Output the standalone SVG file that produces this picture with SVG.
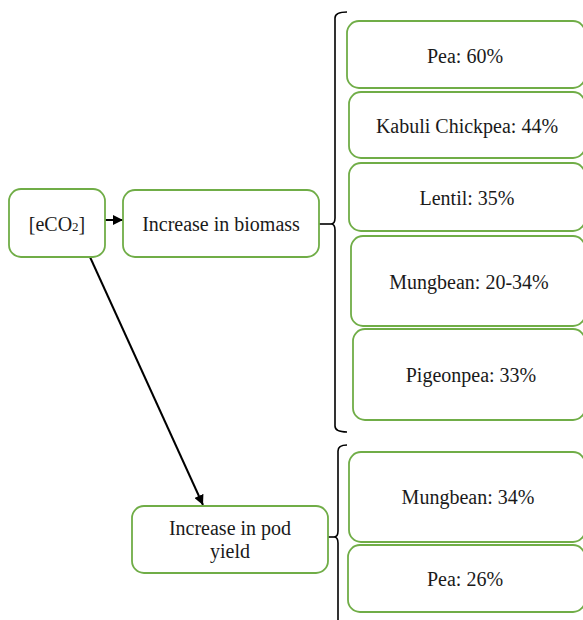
<svg xmlns="http://www.w3.org/2000/svg" width="583" height="620" viewBox="0 0 583 620">
  <style>
    .box { fill: #ffffff; stroke: #70AD47; stroke-width: 1.8; }
    .lbl { font-family: "Liberation Serif", "Times New Roman", serif; font-size: 20px; fill: #1a1a1a; text-anchor: middle; }
    .edge { fill: none; stroke: #000000; stroke-width: 2; }
    .brace { fill: none; stroke: #000000; stroke-width: 1.6; }
  </style>
  <defs>
    <marker id="arrow" viewBox="0 0 10 10" refX="10" refY="5" markerWidth="5" markerHeight="5" orient="auto" markerUnits="strokeWidth">
      <path d="M0,0 L10,5 L0,10 Z" fill="#000000"/>
    </marker>
  </defs>
  <rect width="583" height="620" fill="#ffffff"/>

  <!-- connectors and braces -->
  <g id="connectors">
    <line class="edge" x1="105" y1="220" x2="123" y2="220" marker-end="url(#arrow)"/>
    <line class="edge" x1="90" y1="257" x2="203" y2="505" marker-end="url(#arrow)"/>
    <line class="brace" x1="319" y1="224" x2="331" y2="224"/>
    <path class="brace" d="M347,12 Q335,12 335,18 L335,218 Q335,224 331,224 Q335,224 335,230 L335,426 Q335,432 347,432"/>
    <line class="brace" x1="328" y1="537" x2="334" y2="537"/>
    <path class="brace" d="M347,445 Q338,445 338,451 L338,531 Q338,537 334,537 Q338,537 338,543 L338,622"/>
  </g>

  <g id="eco2">
    <rect class="box" x="9" y="189" width="96" height="68" rx="12"/>
    <text class="lbl" x="57" y="231">[eCO<tspan font-size="13">2</tspan>]</text>
  </g>
  <g id="biomass">
    <rect class="box" x="123" y="190" width="196" height="67" rx="12"/>
    <text class="lbl" x="221" y="231">Increase in biomass</text>
  </g>
  <g id="pea60">
    <rect class="box" x="347" y="21" width="238" height="67" rx="12"/>
    <text class="lbl" x="465" y="63">Pea: 60%</text>
  </g>
  <g id="kabuli">
    <rect class="box" x="349" y="92" width="236" height="66" rx="12"/>
    <text class="lbl" x="467" y="133">Kabuli Chickpea: 44%</text>
  </g>
  <g id="lentil">
    <rect class="box" x="349" y="163" width="236" height="68" rx="12"/>
    <text class="lbl" x="467" y="205">Lentil: 35%</text>
  </g>
  <g id="mungbean-biomass">
    <rect class="box" x="351" y="236" width="234" height="90" rx="12"/>
    <text class="lbl" x="469" y="289">Mungbean: 20-34%</text>
  </g>
  <g id="pigeonpea">
    <rect class="box" x="353" y="329" width="232" height="91" rx="12"/>
    <text class="lbl" x="471" y="382">Pigeonpea: 33%</text>
  </g>
  <g id="pod-yield">
    <rect class="box" x="132" y="506" width="196" height="67" rx="12"/>
    <text class="lbl" x="230" y="535">Increase in pod</text>
    <text class="lbl" x="230" y="558">yield</text>
  </g>
  <g id="mungbean-pod">
    <rect class="box" x="349" y="452" width="236" height="90" rx="12"/>
    <text class="lbl" x="468" y="504">Mungbean: 34%</text>
  </g>
  <g id="pea26">
    <rect class="box" x="348" y="545" width="237" height="67" rx="12"/>
    <text class="lbl" x="465" y="586">Pea: 26%</text>
  </g>
</svg>
